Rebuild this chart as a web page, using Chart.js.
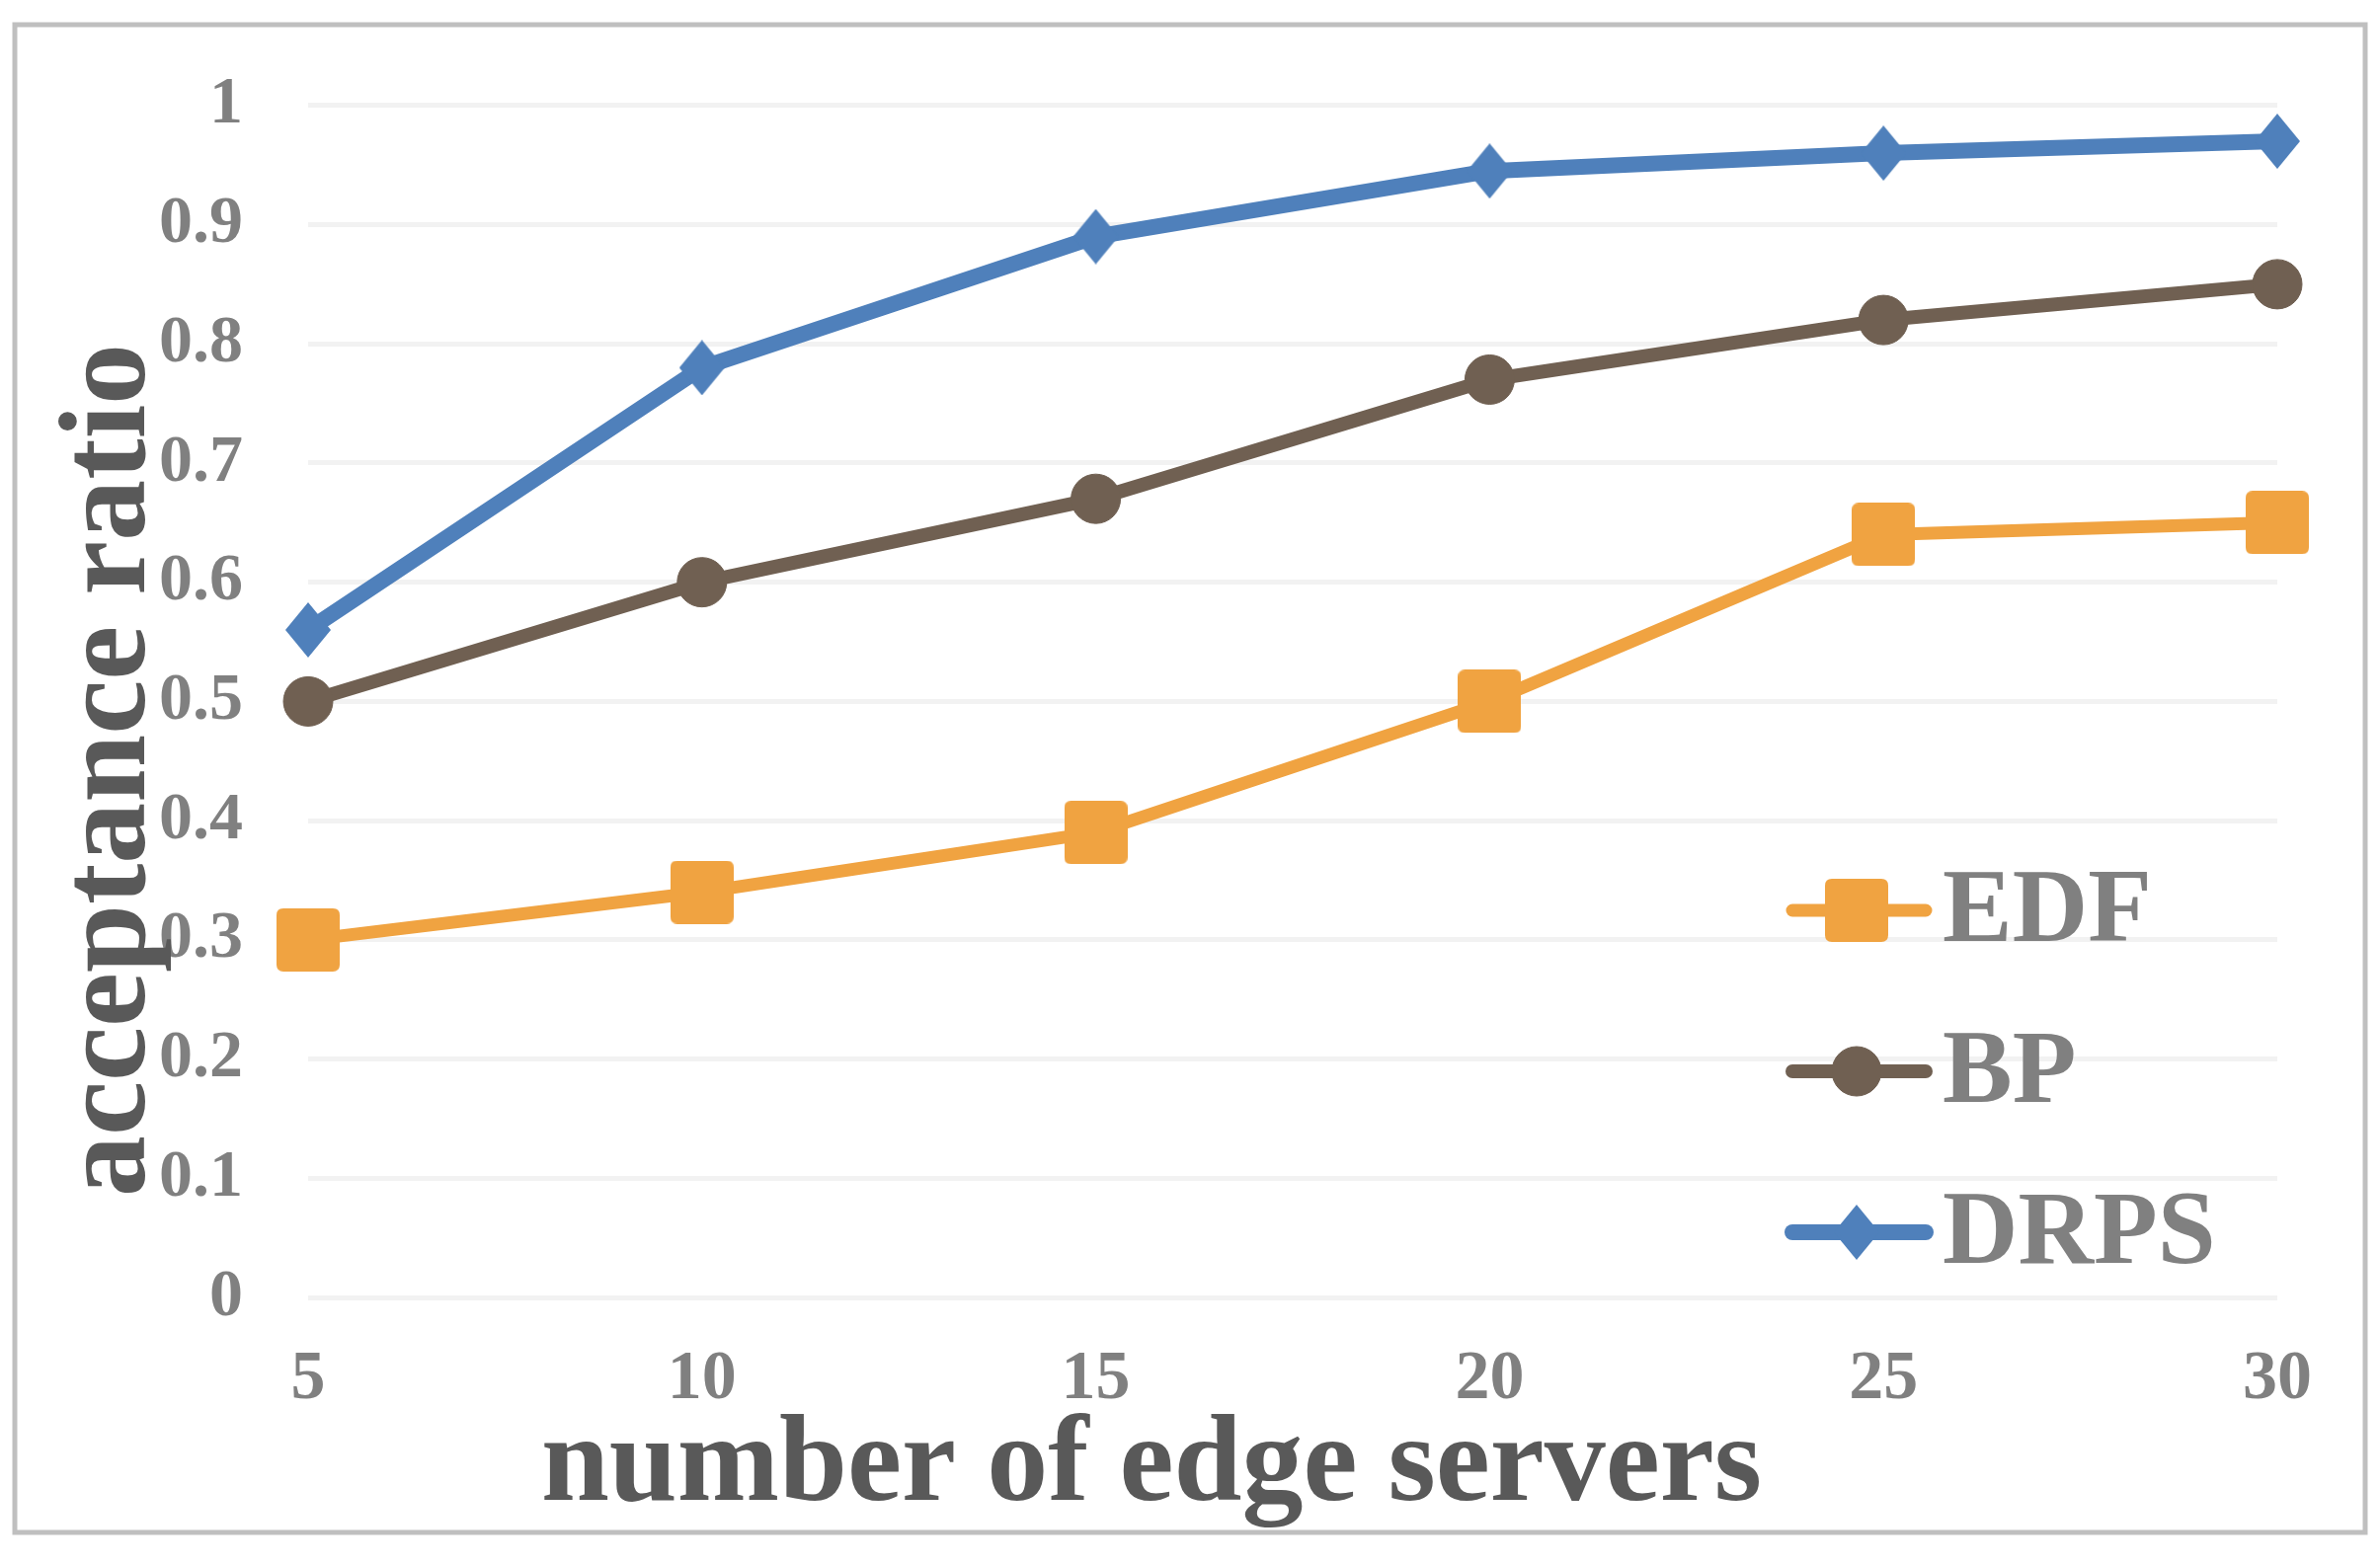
<!DOCTYPE html>
<html>
<head>
<meta charset="utf-8">
<script src="https://cdn.jsdelivr.net/npm/chart.js@4.4.0/dist/chart.umd.min.js"></script>
<style>
html,body{margin:0;padding:0;background:#ffffff;}
#wrap{width:2410px;height:1585px;position:relative;}
</style>
</head>
<body>
<div id="wrap"><canvas id="c" width="2410" height="1585"></canvas></div>
<script>
// ---- data ----
const categories = ['5', '10', '15', '20', '25', '30'];
const edfValues  = [0.30, 0.34, 0.39, 0.50, 0.64, 0.65];
const bpValues   = [0.50, 0.60, 0.67, 0.77, 0.82, 0.85];
const drpsValues = [0.56, 0.78, 0.89, 0.945, 0.96, 0.97];
const seriesNames = ['EDF', 'BP', 'DRPS'];
const yTickLabels = ['0', '0.1', '0.2', '0.3', '0.4', '0.5', '0.6', '0.7', '0.8', '0.9', '1'];
const xAxisTitle = 'number of edge servers';
const yAxisTitle = 'acceptance ratio';

// ---- styles ----
const FONT = "'Liberation Serif', 'DejaVu Serif', serif";
const colors = { EDF: '#f0a341', BP: '#706052', DRPS: '#4f80bb' };

function squareMarker(color, side, r) {
  const c = document.createElement('canvas');
  c.width = side; c.height = side;
  const g = c.getContext('2d');
  g.fillStyle = color;
  g.beginPath();
  g.moveTo(r, 0); g.lineTo(side - r, 0); g.quadraticCurveTo(side, 0, side, r);
  g.lineTo(side, side - r); g.quadraticCurveTo(side, side, side - r, side);
  g.lineTo(r, side); g.quadraticCurveTo(0, side, 0, side - r);
  g.lineTo(0, r); g.quadraticCurveTo(0, 0, r, 0);
  g.closePath(); g.fill();
  return c;
}
function diamondMarker(color, w, h) {
  const c = document.createElement('canvas');
  c.width = w; c.height = h;
  const g = c.getContext('2d');
  g.fillStyle = color;
  g.beginPath();
  g.moveTo(w / 2, 0); g.lineTo(w, h / 2); g.lineTo(w / 2, h); g.lineTo(0, h / 2);
  g.closePath(); g.fill();
  return c;
}

const frameAndTitles = {
  id: 'frameAndTitles',
  beforeDraw(chart) {
    const ctx = chart.ctx;
    ctx.save();
    ctx.fillStyle = '#ffffff';
    ctx.fillRect(0, 0, chart.width, chart.height);
    ctx.strokeStyle = '#bfbfbf';
    ctx.lineWidth = 5;
    ctx.strokeRect(15, 25, 2380, 1527);
    ctx.restore();
  },
  afterDraw(chart) {
    const ctx = chart.ctx;
    ctx.save();
    ctx.fillStyle = '#595959';
    ctx.font = "bold 124px " + FONT;
    ctx.textAlign = 'center';
    ctx.textBaseline = 'alphabetic';
    ctx.fillText(xAxisTitle, 1166, 1519);
    ctx.translate(146, 780);
    ctx.rotate(-Math.PI / 2);
    ctx.fillText(yAxisTitle, 0, 0);
    ctx.restore();

    // legend
    const legendY = [922, 1085, 1248];
    ctx.save();
    chart.data.datasets.forEach((ds, i) => {
      const y = legendY[i];
      ctx.strokeStyle = ds.borderColor;
      ctx.lineWidth = ds.borderWidth;
      ctx.lineCap = 'round';
      ctx.beginPath();
      ctx.moveTo(1815, y);
      ctx.lineTo(1950, y);
      ctx.stroke();
      ctx.fillStyle = ds.pointBackgroundColor;
      ctx.strokeStyle = ds.pointBorderColor;
      ctx.lineWidth = 1;
      Chart.helpers.drawPoint(ctx, { pointStyle: ds.pointStyle, radius: ds.pointRadius, rotation: 0, borderWidth: 1 }, 1880, y);
      ctx.fillStyle = '#808080';
      ctx.font = "bold 106px " + FONT;
      ctx.textAlign = 'left';
      ctx.textBaseline = 'middle';
      ctx.fillText(ds.label, 1967, y + 4);
    });
    ctx.restore();
  }
};

function makeDataset(name, values, style, radius, width) {
  return {
    label: name,
    data: values,
    borderColor: colors[name],
    backgroundColor: colors[name],
    pointBackgroundColor: colors[name],
    pointBorderColor: colors[name],
    pointStyle: style,
    pointRadius: radius,
    pointHoverRadius: radius,
    pointBorderWidth: 1,
    borderWidth: width,
    borderCapStyle: 'round',
    borderJoinStyle: 'round',
    tension: 0,
    fill: false
  };
}

new Chart(document.getElementById('c'), {
  type: 'line',
  data: {
    labels: categories,
    datasets: [
      makeDataset(seriesNames[0], edfValues, squareMarker(colors.EDF, 64, 7), 32, 13),
      makeDataset(seriesNames[1], bpValues, 'circle', 25, 14),
      makeDataset(seriesNames[2], drpsValues, diamondMarker(colors.DRPS, 46, 56), 28, 16)
    ]
  },
  options: {
    responsive: false,
    animation: false,
    devicePixelRatio: 1,
    layout: { padding: { left: 15, right: 104, top: 105, bottom: 0 } },
    plugins: { legend: { display: false }, tooltip: { enabled: false } },
    scales: {
      x: {
        type: 'category',
        offset: false,
        grid: { display: false, drawTicks: false },
        border: { display: false },
        ticks: {
          color: '#808080',
          padding: 42,
          font: { family: FONT, weight: 'bold', size: 70 }
        },
        afterFit(scale) { scale.height = 271; }
      },
      y: {
        min: 0,
        max: 1,
        grid: { color: '#f2f2f2', lineWidth: 5, drawTicks: false },
        border: { display: false },
        ticks: {
          stepSize: 0.1,
          color: '#808080',
          padding: 66,
          font: { family: FONT, weight: 'bold', size: 68 },
          callback: (v, i) => yTickLabels[i]
        },
        afterFit(scale) { scale.width = 297; }
      }
    }
  },
  plugins: [frameAndTitles]
});
</script>
</body>
</html>
